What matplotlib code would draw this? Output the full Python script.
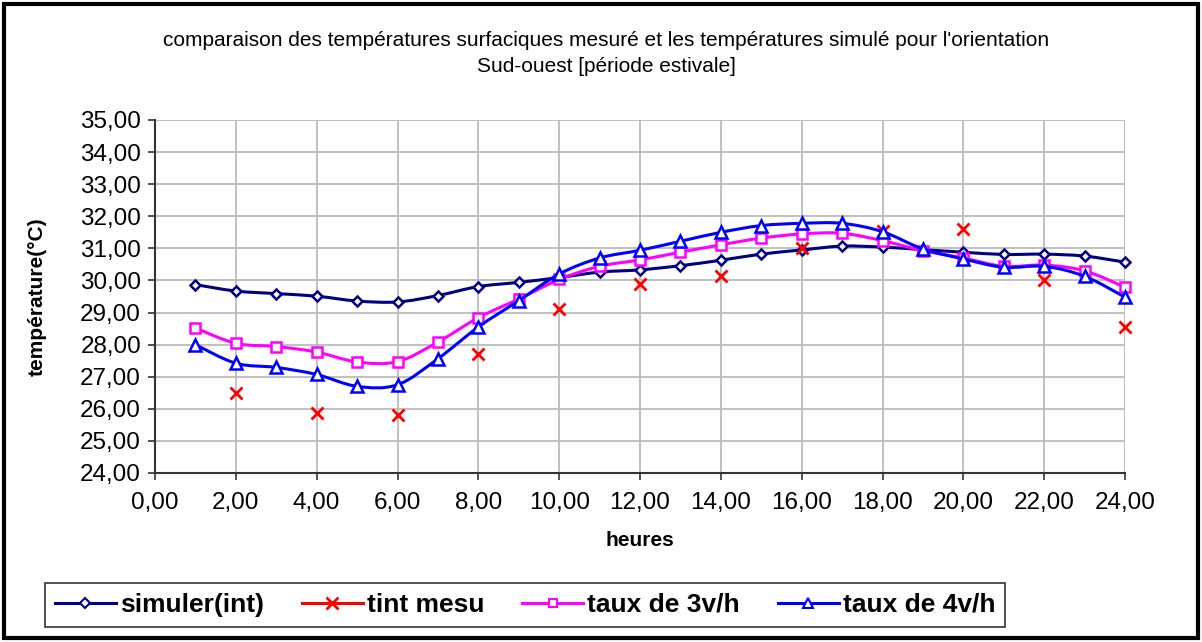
import numpy as np
import matplotlib
matplotlib.use("Agg")
import matplotlib.pyplot as plt
from matplotlib.path import Path
from matplotlib.patches import PathPatch, Rectangle
from matplotlib.lines import Line2D
from matplotlib.ticker import FuncFormatter, MultipleLocator

plt.rcParams['font.family'] = ['Liberation Sans', 'DejaVu Sans']

hours = [1, 2, 3, 4, 5, 6, 7, 8, 9, 10, 11, 12, 13, 14, 15, 16, 17, 18, 19, 20, 21, 22, 23, 24]
simuler_int = [29.87, 29.67, 29.59, 29.51, 29.36, 29.33, 29.53, 29.81, 29.94, 30.09, 30.26, 30.33,
               30.46, 30.63, 30.82, 30.95, 31.07, 31.04, 30.96, 30.88, 30.81, 30.82, 30.76, 30.57]
tint_mesu = [np.nan, 26.5, np.nan, 25.88, np.nan, 25.8, np.nan, 27.7, np.nan, 29.12, np.nan, 29.9,
             np.nan, 30.14, np.nan, 31.0, np.nan, 31.53, np.nan, 31.6, np.nan, 30.0, np.nan, 28.55]
taux_3vh = [28.52, 28.04, 27.94, 27.77, 27.46, 27.47, 28.08, 28.84, 29.42, 30.03, 30.44, 30.64,
            30.88, 31.11, 31.32, 31.45, 31.47, 31.24, 30.93, 30.70, 30.44, 30.48, 30.30, 29.79]
taux_4vh = [28.0, 27.42, 27.29, 27.07, 26.70, 26.75, 27.56, 28.55, 29.37, 30.20, 30.70, 30.94,
            31.22, 31.50, 31.71, 31.78, 31.78, 31.52, 30.98, 30.67, 30.41, 30.44, 30.13, 29.48]

series_names = ['simuler(int)', 'tint mesu', 'taux de 3v/h', 'taux de 4v/h']
x_ticks = [0, 2, 4, 6, 8, 10, 12, 14, 16, 18, 20, 22, 24]

W, H = 1202, 642
fig = plt.figure(figsize=(W / 100, H / 100), dpi=100)
fig.patch.set_facecolor('white')

ax = fig.add_axes([155 / W, 1 - 473 / H, 970 / W, 353 / H])


def smooth_path(x, y):
    x = np.asarray(x, float)
    y = np.asarray(y, float)
    pts = np.column_stack([x, y])
    n = len(pts)
    verts = [pts[0]]
    codes = [Path.MOVETO]
    for i in range(n - 1):
        p0 = pts[i - 1] if i > 0 else pts[i]
        p1 = pts[i]
        p2 = pts[i + 1]
        p3 = pts[i + 2] if i + 2 < n else pts[i + 1]
        c1 = p1 + (p2 - p0) / 6.0
        c2 = p2 - (p3 - p1) / 6.0
        verts += [c1, c2, p2]
        codes += [Path.CURVE4] * 3
    return Path(verts, codes)


navy = '#000080'
red = '#FF0000'
pink = '#FF00FF'
blue = '#0000FF'

# simuler
ax.add_patch(PathPatch(smooth_path(hours, simuler_int), fill=False, edgecolor=navy, lw=2.2, zorder=3))
ax.plot(hours, simuler_int, linestyle='none', marker='D', ms=5.5, mfc='white', mec=navy, mew=1.8,
        zorder=4, clip_on=False)

# tint mesu (markers only where measured)
ax.plot(hours, tint_mesu, linestyle='-', color=red, lw=2, marker='x', ms=9, mew=2, zorder=4, clip_on=False)

# taux 3v/h
ax.add_patch(PathPatch(smooth_path(hours, taux_3vh), fill=False, edgecolor=pink, lw=2.2, zorder=5))
ax.plot(hours, taux_3vh, linestyle='none', marker='s', ms=6.5, mfc='white', mec=pink, mew=1.8,
        zorder=6, clip_on=False)

# taux 4v/h
ax.add_patch(PathPatch(smooth_path(hours, taux_4vh), fill=False, edgecolor=blue, lw=2.2, zorder=7))
ax.plot(hours, taux_4vh, linestyle='none', marker='^', ms=8, mfc='white', mec=blue, mew=1.8,
        zorder=8, clip_on=False)

ax.set_xlim(0, 24)
ax.set_ylim(24, 35)
ax.set_xticks(x_ticks)
ax.yaxis.set_major_locator(MultipleLocator(1))
fmt = FuncFormatter(lambda v, p: f"{v:.2f}".replace('.', ','))
ax.xaxis.set_major_formatter(fmt)
ax.yaxis.set_major_formatter(fmt)
ax.tick_params(axis='both', labelsize=17.5, direction='out', length=5, width=1.2, color='#333333')
ax.tick_params(axis='x', pad=9)
ax.tick_params(axis='y', pad=5)
ax.grid(True, color='#bbbbbb', lw=1.3)
ax.set_axisbelow(True)
for s in ['top', 'right']:
    ax.spines[s].set_visible(False)
for s in ['left', 'bottom']:
    ax.spines[s].set_color('#333333')
    ax.spines[s].set_linewidth(1.5)

ax.set_xlabel('heures', fontsize=15, fontweight='bold', labelpad=12)
ax.set_ylabel('température(°C)', fontsize=15, fontweight='bold', labelpad=24)

fig.text(606 / W, 1 - 40 / H, "comparaison des températures surfaciques mesuré et les températures simulé pour l'orientation",
         ha='center', va='center', fontsize=15)
fig.text(606 / W, 1 - 66 / H, "Sud-ouest [période estivale]", ha='center', va='center', fontsize=15)

handles = [
    Line2D([], [], color=navy, lw=2.2, marker='D', ms=5, mfc='white', mec=navy, mew=1.5),
    Line2D([], [], color=red, lw=2.2, marker='x', ms=9, mew=2),
    Line2D([], [], color=pink, lw=2.2, marker='s', ms=6, mfc='white', mec=pink, mew=1.5),
    Line2D([], [], color=blue, lw=2.2, marker='^', ms=7, mfc='white', mec=blue, mew=1.5),
]
leg = fig.legend(handles, series_names, ncol=4, loc='center',
                 bbox_to_anchor=(525 / W, 1 - 605 / H),
                 prop={'size': 19, 'weight': 'bold'}, frameon=True, fancybox=False,
                 handlelength=2.3, handletextpad=0.15, columnspacing=1.45, borderpad=0.38)
leg.get_frame().set_edgecolor('black')
leg.get_frame().set_linewidth(1.2)

fig.patches.append(Rectangle((4 / W, 4 / H), 1 - 8 / W, 1 - 8 / H, transform=fig.transFigure,
                             fill=False, edgecolor='black', lw=3))

fig.savefig('out.png', dpi=100, facecolor='white')
